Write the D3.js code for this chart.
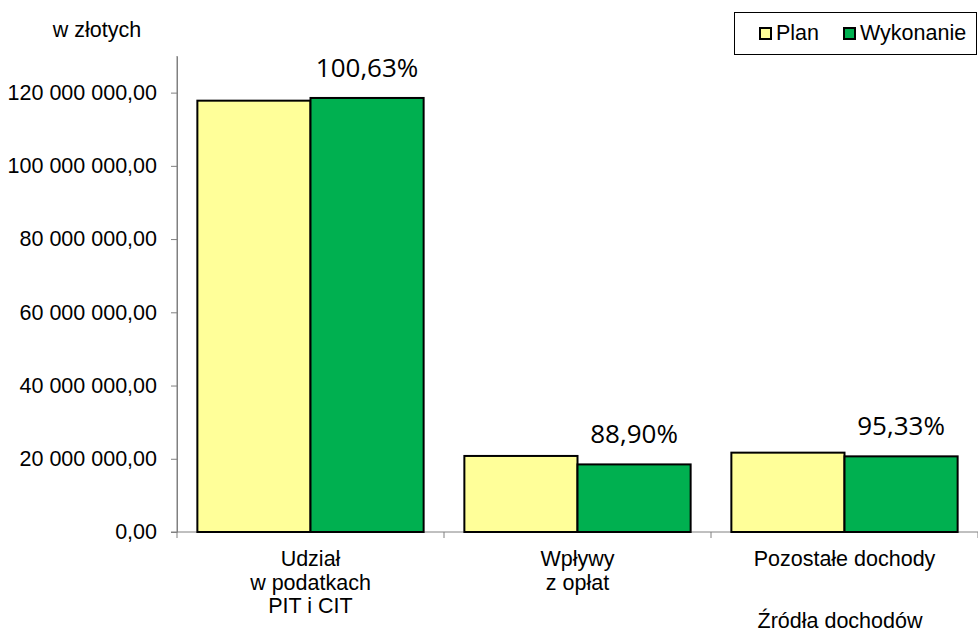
<!DOCTYPE html>
<meta charset="utf-8">
<style>
  body { margin: 0; background: #fff; }
  svg { font-family: "Liberation Sans", Arial, sans-serif; }
  .axis path, .axis line { stroke: #808080; }
  .axis text { font-size: 21.5px; fill: #000; }
  .pct { font-family: "Open Sans", sans-serif; font-size: 26px; fill: #000; text-anchor: middle; }
  .cat { font-size: 21.5px; text-anchor: middle; }
</style>
<body>
<svg width="978" height="635"></svg>
<script src="https://d3js.org/d3.v7.min.js"></script>
<script>

var categories = [["Udział", "w podatkach", "PIT i CIT"], ["Wpływy", "z opłat"], ["Pozostałe dochody"]];
var series = ["Plan", "Wykonanie"];
var plan = [117800000, 20770000, 21670000];
var wykonanie = [118540000, 18460000, 20660000];
var percents = [100.63, 88.90, 95.33];
var yTicks = [0, 20e6, 40e6, 60e6, 80e6, 100e6, 120e6];
var colors = ["#ffff99", "#00b050"];

var svg = d3.select("svg");

var pl = d3.formatLocale({decimal: ",", thousands: " ", grouping: [3], currency: ["", ""]});
var fmt = pl.format(",.2f");

var x0 = d3.scaleBand()
    .domain(d3.range(categories.length))
    .range([177, 978])
    .padding(0);
var x1 = d3.scaleBand()
    .domain(series)
    .range([0, x0.bandwidth()])
    .paddingInner(0)
    .paddingOuter(0.18);
var y = d3.scaleLinear()
    .domain([0, 130e6])
    .range([532, 56]);

// y axis
svg.append("g")
    .attr("class", "axis")
    .attr("transform", "translate(177,0)")
    .call(d3.axisLeft(y).tickValues(yTicks).tickFormat(fmt).tickSize(6).tickSizeOuter(0).tickPadding(14));
svg.append("line")
    .attr("x1", 177).attr("x2", 177)
    .attr("y1", 56).attr("y2", 532)
    .attr("stroke", "#808080");

// x axis
var xa = svg.append("g").attr("class", "axis");
xa.append("line")
    .attr("x1", 171).attr("x2", 978)
    .attr("y1", y(0)).attr("y2", y(0));
xa.selectAll(".xt")
    .data(d3.range(categories.length + 1))
    .enter().append("line")
    .attr("x1", function(i) { return 177 + i * x0.bandwidth(); })
    .attr("x2", function(i) { return 177 + i * x0.bandwidth(); })
    .attr("y1", y(0)).attr("y2", y(0) + 6);

var table = categories.map(function(c, i) {
  return {i: i, vals: [plan[i], wykonanie[i]]};
});

var groups = svg.selectAll(".grp")
    .data(table)
    .enter().append("g")
    .attr("transform", function(d) { return "translate(" + x0(d.i) + ",0)"; });

groups.selectAll("rect")
    .data(function(d) { return d.vals.map(function(v, k) { return {s: series[k], v: v, k: k}; }); })
    .enter().append("rect")
    .attr("x", function(d) { return x1(d.s); })
    .attr("width", x1.bandwidth())
    .attr("y", function(d) { return y(d.v); })
    .attr("height", function(d) { return y(0) - y(d.v); })
    .attr("fill", function(d) { return colors[d.k]; })
    .attr("stroke", "#000")
    .attr("stroke-width", 2);

groups.append("text")
    .attr("class", "pct")
    .attr("x", x1("Wykonanie") + x1.bandwidth() / 2)
    .attr("y", function(d) { return y(d.vals[1]) - 21; })
    .text(function(d) { return pl.format(".2f")(percents[d.i]) + "%"; });

groups.append("text")
    .attr("class", "cat")
    .attr("x", x0.bandwidth() / 2)
    .attr("y", 566)
    .selectAll("tspan")
    .data(function(d) { return categories[d.i]; })
    .enter().append("tspan")
    .attr("x", x0.bandwidth() / 2)
    .attr("dy", function(d, j) { return j ? 23.5 : 0; })
    .text(function(d) { return d; });

svg.append("text")
    .attr("class", "cat")
    .attr("x", 840).attr("y", 628)
    .text("Źródła dochodów");

svg.append("text")
    .attr("x", 97).attr("y", 37)
    .attr("text-anchor", "middle")
    .attr("font-size", 21.5)
    .text("w złotych");

// legend
var lg = svg.append("g");
lg.append("rect")
    .attr("x", 734.5).attr("y", 12.5)
    .attr("width", 242).attr("height", 42)
    .attr("fill", "#fff").attr("stroke", "#000");
var lx = [760, 844];
series.forEach(function(s, k) {
  lg.append("rect")
      .attr("x", lx[k]).attr("y", 28)
      .attr("width", 11).attr("height", 11)
      .attr("fill", colors[k]).attr("stroke", "#000").attr("stroke-width", 2);
  lg.append("text")
      .attr("x", lx[k] + 16).attr("y", 40)
      .attr("font-size", 21.5)
      .text(s);
});

</script>
</body>
